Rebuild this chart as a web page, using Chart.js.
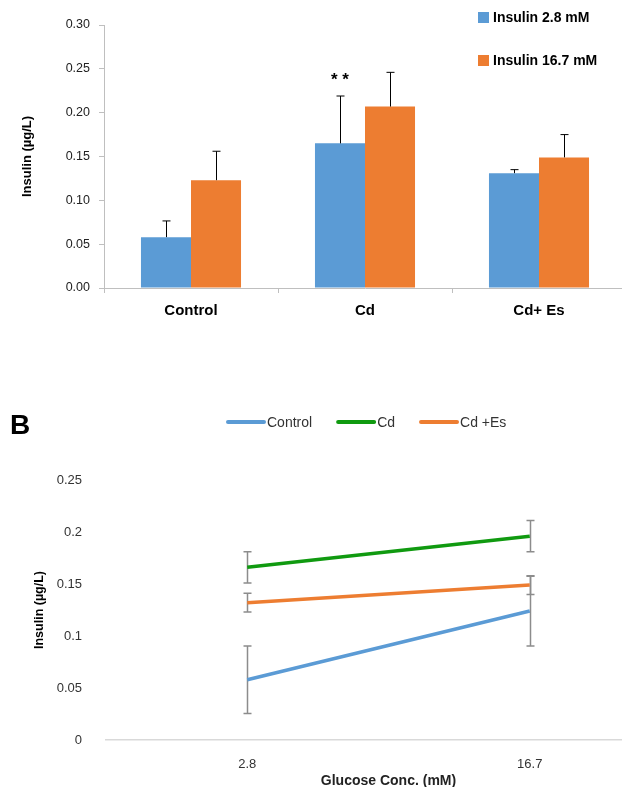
<!DOCTYPE html>
<html>
<head>
<meta charset="utf-8">
<script src="https://cdn.jsdelivr.net/npm/chart.js@4"></script>
<style>
  html, body { margin: 0; padding: 0; background: #fff; overflow: hidden; width: 622px; height: 787px; }
  .wrap { position: absolute; left: 0; width: 680px; }
  #panelB { position: absolute; left: 10px; top: 409px; line-height: 1; font: bold 28px "Liberation Sans", Arial, sans-serif; color: #000; }
</style>
</head>
<body>
<div class="wrap" style="top:0;height:345px"><canvas id="insulinBar"></canvas></div>
<div class="wrap" style="top:390px;height:400px"><canvas id="insulinLine"></canvas></div>
<div id="panelB">B</div>
<script>
// A: insulin secretion, bars
const groups = ["Control", "Cd", "Cd+ Es"];
const insulinLow = [0.058, 0.165, 0.131];
const insulinLowErr = [0.0185, 0.054, 0.004];
const insulinHigh = [0.123, 0.207, 0.149];
const insulinHighErr = [0.033, 0.039, 0.026];

// B: same data vs glucose concentration
const glucose = ["2.8", "16.7"];
const controlLine = [0.058, 0.124];
const controlErr = [0.0325, 0.0335];
const cdLine = [0.166, 0.196];
const cdErr = [0.015, 0.015];
const cdEsLine = [0.132, 0.149];
const cdEsErr = [0.009, 0.009];

const FONT = "'Liberation Sans', Arial, sans-serif";
const BLUE = "#5B9BD5";
const ORANGE = "#ED7D31";
const GREEN = "#109A10";

// error bars from dataset.errors, drawn with the chart's own y scale
const errorBars = {
  id: "errorBars",
  drawBars(chart, opts) {
    const ctx = chart.ctx;
    const y = chart.scales.y;
    chart.data.datasets.forEach((ds, i) => {
      if (!ds.errors) return;
      const meta = chart.getDatasetMeta(i);
      meta.data.forEach((el, j) => {
        const v = ds.data[j];
        const e = ds.errors[j];
        const x = Math.round(el.x) + 0.5;
        const top = y.getPixelForValue(v + e);
        const bot = opts.both ? y.getPixelForValue(v - e) : el.y;
        ctx.save();
        ctx.strokeStyle = opts.color;
        ctx.lineWidth = opts.width;
        ctx.beginPath();
        ctx.moveTo(x, bot);
        ctx.lineTo(x, top);
        ctx.moveTo(x - opts.cap, top);
        ctx.lineTo(x + opts.cap, top);
        if (opts.both) {
          ctx.moveTo(x - opts.cap, bot);
          ctx.lineTo(x + opts.cap, bot);
        }
        ctx.stroke();
        ctx.restore();
      });
    });
  },
  beforeDatasetsDraw(chart, args, opts) {
    if (opts.under) this.drawBars(chart, opts);
  },
  afterDatasetsDraw(chart, args, opts) {
    if (!opts.under) this.drawBars(chart, opts);
  },
};

// legend + significance stars for the bar chart
const barExtras = {
  id: "barExtras",
  afterDraw(chart) {
    const ctx = chart.ctx;
    ctx.save();
    ctx.font = "bold 14px " + FONT;
    ctx.textBaseline = "middle";
    chart.data.datasets.forEach((ds, i) => {
      const yy = 17 + i * 43;
      ctx.fillStyle = ds.backgroundColor;
      ctx.fillRect(478, yy - 5, 11, 11);
      ctx.fillStyle = "#000";
      ctx.fillText(ds.label, 493, yy + 1);
    });
    // ** over Cd 2.8 mM
    const bar = chart.getDatasetMeta(0).data[1];
    const top = chart.scales.y.getPixelForValue(insulinLow[1] + insulinLowErr[1]);
    ctx.font = "bold 17px " + FONT;
    ctx.textAlign = "center";
    ctx.fillText("* *", bar.x, top - 16);
    ctx.restore();
  },
};

// line legend for chart B
const lineLegend = {
  id: "lineLegend",
  afterDraw(chart) {
    const ctx = chart.ctx;
    ctx.save();
    ctx.font = "14px " + FONT;
    ctx.textBaseline = "middle";
    let x = 228;
    const y = 32;
    chart.data.datasets.forEach((ds) => {
      ctx.strokeStyle = ds.borderColor;
      ctx.lineWidth = 4;
      ctx.lineCap = "round";
      ctx.beginPath();
      ctx.moveTo(x, y);
      ctx.lineTo(x + 36, y);
      ctx.stroke();
      ctx.fillStyle = "#333";
      ctx.fillText(ds.label, x + 39, y + 1);
      x += 39 + ctx.measureText(ds.label).width + 26;
    });
    ctx.restore();
  },
};

new Chart(document.getElementById("insulinBar"), {
  type: "bar",
  data: {
    labels: groups,
    datasets: [
      { label: "Insulin 2.8 mM", data: insulinLow, errors: insulinLowErr, backgroundColor: BLUE },
      { label: "Insulin 16.7 mM", data: insulinHigh, errors: insulinHighErr, backgroundColor: ORANGE },
    ],
  },
  options: {
    responsive: true,
    maintainAspectRatio: false,
    animation: false,
    categoryPercentage: 0.575,
    barPercentage: 1,
    layout: { padding: { top: 25, right: 54, left: 0, bottom: 0 } },
    plugins: {
      legend: { display: false },
      tooltip: { enabled: false },
      errorBars: { color: "#000", width: 1, cap: 4, both: false },
    },
    scales: {
      x: {
        grid: { drawOnChartArea: false, tickLength: 5, color: "#BFBFBF", offset: true },
        border: { color: "#BFBFBF" },
        ticks: { color: "#000", padding: 9, font: { family: FONT, size: 15, weight: "bold" } },
        afterFit: (s) => { s.height = 57; },
      },
      y: {
        min: 0,
        max: 0.3,
        ticks: {
          stepSize: 0.05,
          padding: 9,
          color: "#222",
          font: { family: FONT, size: 12.5 },
          callback: (v) => v.toFixed(2),
        },
        grid: { drawOnChartArea: false, tickLength: 5, color: "#BFBFBF" },
        border: { color: "#BFBFBF" },
        title: {
          display: true,
          text: "Insulin (µg/L)",
          color: "#000",
          padding: { top: 20, bottom: 0 },
          font: { family: FONT, size: 13, weight: "bold" },
        },
        afterFit: (s) => { s.width = 104; },
      },
    },
  },
  plugins: [errorBars, barExtras],
});

new Chart(document.getElementById("insulinLine"), {
  type: "line",
  data: {
    labels: glucose,
    datasets: [
      { label: "Control", data: controlLine, errors: controlErr, borderColor: BLUE },
      { label: "Cd", data: cdLine, errors: cdErr, borderColor: GREEN },
      { label: "Cd +Es", data: cdEsLine, errors: cdEsErr, borderColor: ORANGE },
    ],
  },
  options: {
    responsive: true,
    maintainAspectRatio: false,
    animation: false,
    elements: { line: { borderWidth: 3.5, tension: 0 }, point: { radius: 0 } },
    layout: { padding: { top: 90, right: 9, left: 0, bottom: 0 } },
    plugins: {
      legend: { display: false },
      tooltip: { enabled: false },
      errorBars: { color: "#8C8C8C", width: 1.5, cap: 4, both: true, under: true },
    },
    scales: {
      x: {
        offset: true,
        grid: { display: false },
        border: { color: "#D9D9D9", width: 1.5 },
        ticks: { color: "#333", padding: 9, font: { family: FONT, size: 13 } },
        title: {
          display: true,
          text: "Glucose Conc. (mM)",
          color: "#222",
          padding: { top: 0, bottom: 0 },
          font: { family: FONT, size: 14, weight: "bold" },
        },
        afterFit: (s) => { s.height = 50; },
      },
      y: {
        min: 0,
        max: 0.25,
        ticks: {
          stepSize: 0.05,
          padding: 16,
          color: "#333",
          font: { family: FONT, size: 13 },
          callback: (v) => String(+v.toFixed(2)),
        },
        grid: { display: false },
        border: { display: false },
        title: {
          display: true,
          text: "Insulin (µg/L)",
          color: "#000",
          padding: { top: 32, bottom: 0 },
          font: { family: FONT, size: 12.5, weight: "bold" },
        },
        afterFit: (s) => { s.width = 106; },
      },
    },
  },
  plugins: [errorBars, lineLegend],
});
</script>
</body>
</html>
